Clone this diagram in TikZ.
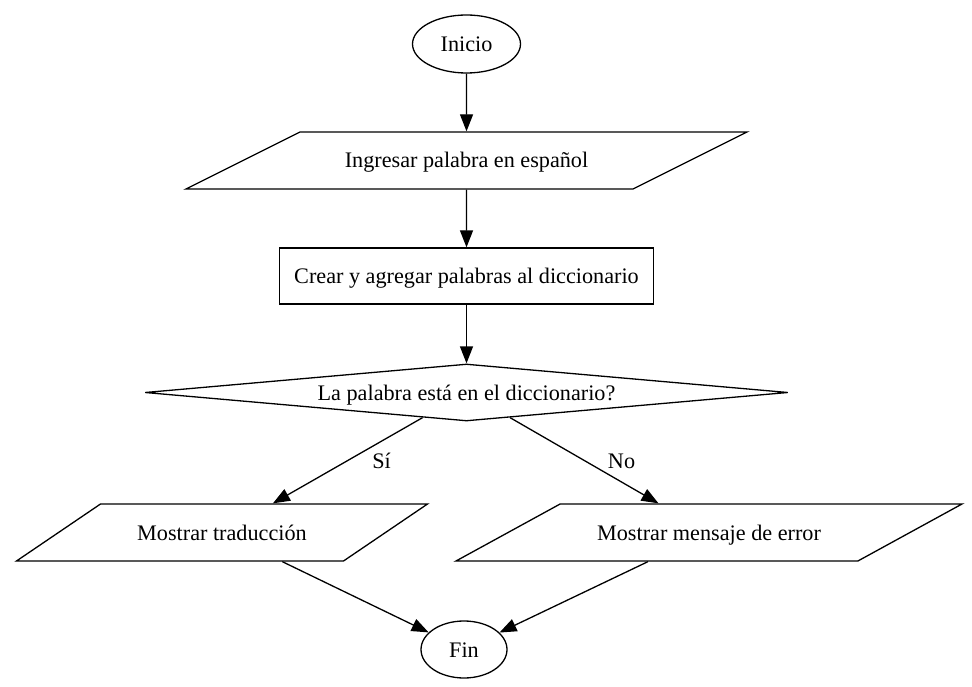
\documentclass[tikz,border=0pt]{standalone}
\usepackage{fontspec}
\setmainfont{Liberation Serif}
\usepackage{tikz}
\usetikzlibrary{shapes.geometric,arrows.meta}
\tikzset{
  txt/.style={font=\fontsize{22.2}{26}\selectfont, text height=15pt, text depth=0pt},
  base/.style={txt, draw=black, line width=1.3pt, inner sep=0pt},
  term/.style={base, ellipse, minimum width=108pt, minimum height=58pt},
  io/.style={base, trapezium, trapezium stretches body=true, inner ysep=21pt,
    trapezium left angle=#1, trapezium right angle={180-#1}},
  proc/.style={base, rectangle, minimum width=374pt, minimum height=56pt},
  decision/.style={base, diamond, shape aspect=11, minimum width=643pt, minimum height=57pt},
  flow/.style={draw=black, line width=1.3pt, -{Triangle[length=17pt, width=13pt]}},
  lab/.style={txt, inner sep=0pt},
}
\begin{document}
\begin{tikzpicture}[x=1pt, y=-1pt]
\useasboundingbox (0,0) rectangle (972,687);

\node[term] (start) at (466.5,44) {Inicio};
\node[io=26.57, minimum width=561pt] (input) at (466.5,160.5) {Ingresar palabra en español};
\node[proc] (dict) at (466.5,276) {Crear y agregar palabras al diccionario};
\node[decision] (check) at (466.5,392.5) {La palabra está en el diccionario?};
\node[io=34.16, minimum width=411pt] (found) at (222,532.5) {Mostrar traducción};
\node[io=28.7, minimum width=506pt] (error) at (709,532.5) {Mostrar mensaje de error};
\node[term, minimum width=86pt, minimum height=57pt] (stop) at (464,649.5) {Fin};

\draw[flow] (start) -- (input);
\draw[flow] (input) -- (dict);
\draw[flow] (dict) -- (check);
\draw[flow] (check) -- node[lab, right=24pt] {Sí} (found);
\draw[flow] (check) -- node[lab, right=23pt] {No} (error);
\draw[flow] (found) -- (stop);
\draw[flow] (error) -- (stop);
\end{tikzpicture}
\end{document}
